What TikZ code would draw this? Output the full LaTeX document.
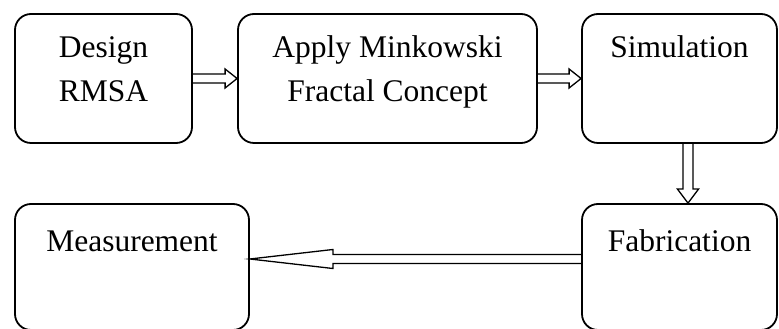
\documentclass[tikz,border=0pt]{standalone}
\usepackage{fontspec}
\setmainfont{Liberation Serif}
\usetikzlibrary{calc}

\begin{document}
\begin{tikzpicture}[x=1pt, y=1pt,
		block/.style={draw, line width=1.8pt, rounded corners=16pt, align=center, font=\fontsize{31.5}{44}\selectfont, text height=0pt, text depth=41pt},
		twoline/.style={text height=47pt, text depth=0pt},
		flow/.style={draw, line width=1.3pt, line join=miter}]
		\useasboundingbox (0,0) rectangle (779,329);
		% upper row
		\node[block, twoline, minimum width=177, minimum height=129] (design) at (103.5,250.5) {Design\\RMSA};
		\node[block, twoline, minimum width=299, minimum height=129] (apply) at (387.5,250.5) {Apply Minkowski\\Fractal Concept};
		\node[block, minimum width=195, minimum height=129] (sim) at (679.5,250.5) {Simulation};
		% lower row
		\node[block, text depth=30pt, minimum width=195, minimum height=126] (fab) at (679.5,62) {Fabrication};
		\node[block, text depth=30pt, minimum width=234, minimum height=126] (meas) at (132,62) {Measurement};
		% hollow block arrows
		\draw[flow] ($(design.east)+(0,4.5)$) -- ($(apply.west)+(-12,4.5)$) -- ++(0,5) -- (apply.west)
			-- ($(apply.west)+(-12,-9.5)$) -- ++(0,5) -- ($(design.east)+(0,-4.5)$);
		\draw[flow] ($(apply.east)+(0,4.5)$) -- ($(sim.west)+(-12,4.5)$) -- ++(0,5) -- (sim.west)
			-- ($(sim.west)+(-12,-9.5)$) -- ++(0,5) -- ($(apply.east)+(0,-4.5)$);
		\draw[flow] ($(sim.south)+(3.5,0)$) -- ($(fab.north)+(3.5,14)$) -- ++(-5.5,0) -- ($(fab.north)+(8.5,0)$)
			-- ($(fab.north)+(19,14)$) -- ++(-5.5,0) -- ($(sim.south)+(13.5,0)$);
		\draw[flow] ($(fab.west)+(0,12.5)$) -- ($(meas.east)+(83,12.5)$) -- ++(0,5) -- ($(meas.east)+(0,8)$)
			-- ($(meas.east)+(83,-1.5)$) -- ++(0,5) -- ($(fab.west)+(0,3.5)$);
	\end{tikzpicture}
\end{document}
